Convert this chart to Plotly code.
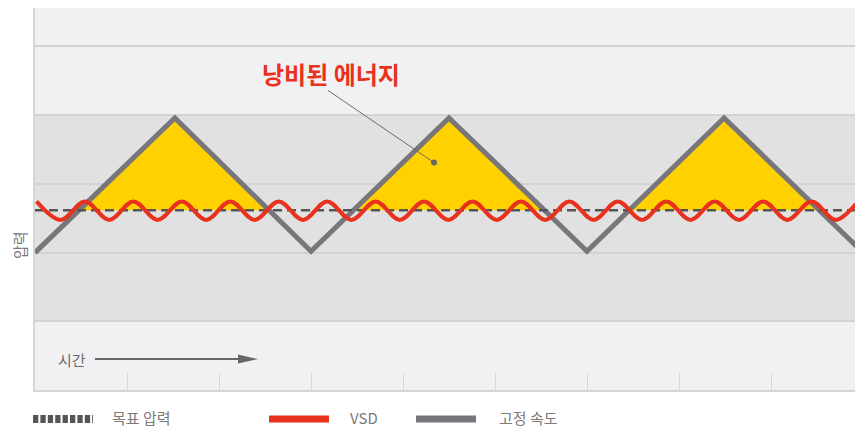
import plotly.graph_objects as go

# ---------------- data ----------------
# Fixed-speed (고정 속도) pressure: triangle wave vertices
fixed_x = [0.0, 1.52, 3.0, 4.5, 6.0, 7.49, 8.97]
fixed_y = [2.0, 3.96, 2.02, 3.96, 2.02, 3.96, 2.04]

# VSD pressure: alternating crest / trough points of the small wave
vsd_x = [0.017, 0.280, 0.543, 0.807, 1.070, 1.333, 1.597, 1.860, 2.123, 2.387,
         2.650, 2.913, 3.176, 3.440, 3.703, 3.966, 4.229, 4.493, 4.756, 5.019,
         5.282, 5.546, 5.809, 6.072, 6.335, 6.599, 6.862, 7.125, 7.388, 7.652,
         7.915, 8.178, 8.441, 8.704, 8.967, 9.0]
vsd_y = [2.745, 2.475, 2.745, 2.475, 2.745, 2.475, 2.745, 2.475, 2.745, 2.475,
         2.745, 2.475, 2.745, 2.475, 2.745, 2.475, 2.745, 2.475, 2.745, 2.475,
         2.745, 2.475, 2.745, 2.475, 2.745, 2.475, 2.745, 2.475, 2.745, 2.475,
         2.745, 2.475, 2.745, 2.475, 2.745, 2.74]

# Target pressure (목표 압력)
target_level = 2.616
target_x = [0.0, 9.0]

# Axis helpers
x_range = [0, 9]
y_range = [0, 5.56]
band_levels = [1, 2, 3, 4, 5]
shaded_band = [1, 4]
time_ticks = [1, 2, 3, 4, 5, 6, 7, 8]

# Text
label_waste = "낭비된 에너지"
label_time = "시간"
label_pressure = "압력"
legend_names = ["목표 압력", "VSD", "고정 속도"]

# Annotation anchor points (data coords)
waste_text_pos = (3.22, 4.61)
waste_line_start = (3.185, 4.36)
waste_point = (4.337, 3.31)
time_text_pos = (0.40, 0.45)
time_arrow = (0.652, 2.424)

# ---------------- styles ----------------
RED = "#e8321e"
GRAY = "#77767b"
YELLOW = "#ffd100"
DARK = "#555555"
TXT = "#7a7a7a"
GRID = "#d3d3d5"
FONT = "Noto Sans CJK KR, Noto Sans, sans-serif"

# ---------------- yellow "wasted energy" polygons ----------------
fill_x, fill_y = [], []
for i in range(1, len(fixed_x) - 1):
    if fixed_y[i] > target_level and fixed_y[i - 1] < target_level and fixed_y[i + 1] < target_level:
        xa0, ya0, xp, yp = fixed_x[i - 1], fixed_y[i - 1], fixed_x[i], fixed_y[i]
        xb1, yb1 = fixed_x[i + 1], fixed_y[i + 1]
        xl = xa0 + (target_level - ya0) / (yp - ya0) * (xp - xa0)
        xr = xp + (target_level - yp) / (yb1 - yp) * (xb1 - xp)
        fill_x += [xl, xp, xr, xl, None]
        fill_y += [target_level, yp, target_level, target_level, None]

fig = go.Figure()
fig.add_trace(go.Scatter(x=fill_x, y=fill_y, fill="toself", fillcolor=YELLOW,
                         mode="lines", line=dict(width=0), hoverinfo="skip",
                         showlegend=False))
fig.add_trace(go.Scatter(x=fixed_x, y=fixed_y, mode="lines", name=legend_names[2],
                         line=dict(color=GRAY, width=5), showlegend=False))
fig.add_trace(go.Scatter(x=target_x, y=[target_level] * len(target_x), mode="lines",
                         name=legend_names[0],
                         line=dict(color=DARK, width=2.5, dash="9px,5px"),
                         showlegend=False))
fig.add_trace(go.Scatter(x=vsd_x, y=vsd_y, mode="lines", name=legend_names[1],
                         line=dict(color=RED, width=4, shape="spline", smoothing=1.0),
                         showlegend=False))
fig.add_trace(go.Scatter(x=[waste_point[0]], y=[waste_point[1]], mode="markers",
                         marker=dict(color="#666666", size=6), hoverinfo="skip",
                         showlegend=False))

shapes = [
    dict(type="rect", xref="paper", x0=0, x1=1, yref="y", y0=shaded_band[0], y1=shaded_band[1],
         fillcolor="#e1e1e2", line=dict(width=0), layer="below"),
    dict(type="line", xref="x", yref="y", x0=waste_line_start[0], y0=waste_line_start[1],
         x1=waste_point[0], y1=waste_point[1], line=dict(color="#6b6b6b", width=1)),
]

# time arrow (line + head)
head_len = 20 / 92
head_half = 4.5 / 68.7
ya = time_text_pos[1]
shapes.append(dict(type="line", xref="x", yref="y", x0=time_arrow[0], x1=time_arrow[1] - head_len,
                   y0=ya, y1=ya, line=dict(color="#666666", width=2)))
shapes.append(dict(type="path", xref="x", yref="y",
                   path=f"M{time_arrow[1] - head_len},{ya + head_half} L{time_arrow[1]},{ya} "
                        f"L{time_arrow[1] - head_len},{ya - head_half} Z",
                   fillcolor="#666666", line=dict(width=0)))

# manual legend (paper coords; page pixels -> paper)
def px_x(p):
    return (p - 35) / 828

leg_y = -(419 - 390) / 382
leg_text_y = -(417 - 390) / 382
shapes += [
    dict(type="line", xref="paper", yref="paper", x0=px_x(33), x1=px_x(93), y0=leg_y, y1=leg_y,
         line=dict(color=DARK, width=8, dash="5.3px,2.1px")),
    dict(type="line", xref="paper", yref="paper", x0=px_x(269), x1=px_x(329), y0=leg_y, y1=leg_y,
         line=dict(color=RED, width=7)),
    dict(type="line", xref="paper", yref="paper", x0=px_x(416), x1=px_x(476), y0=leg_y, y1=leg_y,
         line=dict(color=GRAY, width=7)),
]

annotations = [
    dict(text=f"<b>{label_waste}</b>", x=waste_text_pos[0], y=waste_text_pos[1], xref="x", yref="y",
         xanchor="center", yanchor="middle",
         showarrow=False, font=dict(family=FONT, size=24, color=RED)),
    dict(text=label_time, x=time_text_pos[0], y=time_text_pos[1], xref="x", yref="y",
         xanchor="center", yanchor="middle",
         showarrow=False, font=dict(family=FONT, size=15, color="#6b6b6b")),
    dict(text=label_pressure, x=px_x(19), y=2.11, xref="paper", yref="y", textangle=-90,
         xanchor="center", yanchor="middle",
         showarrow=False, font=dict(family=FONT, size=15, color=TXT)),
    dict(text=legend_names[0], x=px_x(110), y=leg_text_y, xref="paper", yref="paper",
         xanchor="left", yanchor="middle",
         showarrow=False, font=dict(family=FONT, size=15, color=TXT)),
    dict(text=legend_names[1], x=px_x(348), y=leg_text_y, xref="paper", yref="paper",
         xanchor="left", yanchor="middle",
         showarrow=False, font=dict(family=FONT, size=15, color=TXT)),
    dict(text=legend_names[2], x=px_x(497), y=leg_text_y, xref="paper", yref="paper",
         xanchor="left", yanchor="middle",
         showarrow=False, font=dict(family=FONT, size=15, color=TXT)),
]

# The page body has an 8px default margin, so the figure sits at (8, 8):
# size/margins are chosen so the plot area lands at page x 35..863, y 8..390.
fig.update_layout(
    width=855, height=421,
    margin=dict(l=27, r=0, t=0, b=39),
    paper_bgcolor="white", plot_bgcolor="#f1f1f3",
    showlegend=False,
    shapes=shapes, annotations=annotations,
    font=dict(family=FONT),
    xaxis=dict(range=x_range, showgrid=False, zeroline=False, showticklabels=False,
               ticks="inside", tickvals=time_ticks, ticklen=17, tickwidth=1, tickcolor="#d6d6d8",
               showline=True, linecolor="#d6d6d8", linewidth=2, fixedrange=True),
    yaxis=dict(range=y_range, showgrid=True, gridcolor=GRID, gridwidth=2, tickvals=band_levels,
               zeroline=False, showticklabels=False, ticks="",
               showline=True, linecolor="#d6d6d8", linewidth=2, fixedrange=True),
)

fig.write_html("out.html")
